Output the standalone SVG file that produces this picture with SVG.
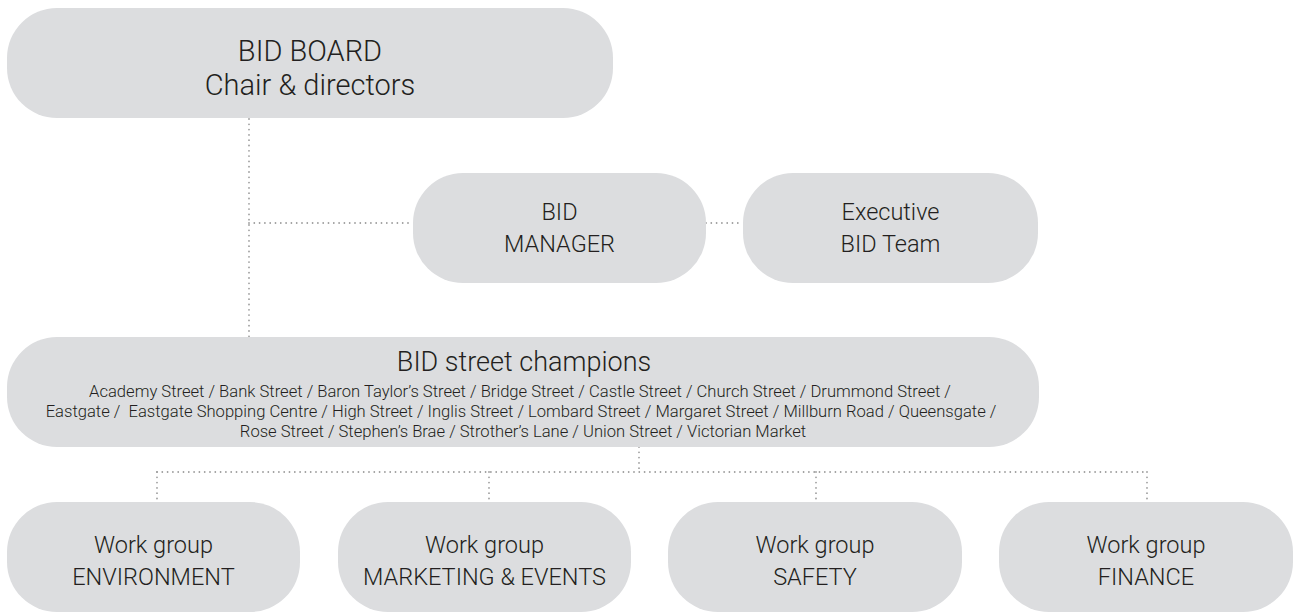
<svg xmlns="http://www.w3.org/2000/svg" width="1293" height="614" viewBox="0 0 1293 614">
  <style>
    .box { fill: #dcdddf; }
    .lbl { font-family: Roboto, "Liberation Sans", sans-serif; font-weight: 300; fill: #231f20; text-anchor: middle; }
    .big { font-size: 29px; }
    .mid { font-size: 23.5px; }
    .wg { font-size: 23.5px; }
    .title { font-size: 27px; }
    .small { font-size: 16.6px; white-space: pre; }
    .dot { fill: none; stroke: #9d9d9d; stroke-width: 1.8; stroke-linecap: round; stroke-dasharray: 0 5.3; }
  </style>
  <rect width="1293" height="614" fill="#ffffff"/>

  <!-- dotted connectors -->
  <g id="connectors">
    <path class="dot" d="M249 119 V337"/>
    <path class="dot" d="M249 223 H413"/>
    <path class="dot" d="M706 223 H743"/>
    <path class="dot" d="M639 447 V472"/>
    <path class="dot" d="M157 472 H1147"/>
    <path class="dot" d="M157 472 V502"/>
    <path class="dot" d="M489 472 V502"/>
    <path class="dot" d="M816 472 V502"/>
    <path class="dot" d="M1147 472 V502"/>
  </g>

  <g id="board">
    <rect class="box" x="7" y="8" width="606" height="110" rx="50" ry="50"/>
    <text class="lbl big" x="310" y="61">BID BOARD</text>
    <text class="lbl big" x="310" y="95">Chair &amp; directors</text>
  </g>

  <g id="manager">
    <rect class="box" x="413" y="173" width="293" height="110" rx="50" ry="50"/>
    <text class="lbl mid" x="559.5" y="220">BID</text>
    <text class="lbl mid" x="559.5" y="252">MANAGER</text>
  </g>

  <g id="executive">
    <rect class="box" x="743" y="173" width="295" height="110" rx="50" ry="50"/>
    <text class="lbl mid" x="890.5" y="220">Executive</text>
    <text class="lbl mid" x="890.5" y="252">BID Team</text>
  </g>

  <g id="champions">
    <rect class="box" x="7" y="337" width="1032" height="110" rx="50" ry="50"/>
    <text class="lbl title" x="524" y="371">BID street champions</text>
    <text class="lbl small" x="520" y="397">Academy Street / Bank Street / Baron Taylor’s Street / Bridge Street / Castle Street / Church Street / Drummond Street /</text>
    <text class="lbl small" x="521" y="417">Eastgate /  Eastgate Shopping Centre / High Street / Inglis Street / Lombard Street / Margaret Street / Millburn Road / Queensgate /</text>
    <text class="lbl small" x="523" y="437">Rose Street / Stephen’s Brae / Strother’s Lane / Union Street / Victorian Market</text>
  </g>

  <g id="wg-environment">
    <rect class="box" x="7" y="502" width="293" height="110" rx="50" ry="50"/>
    <text class="lbl wg" x="153.5" y="553">Work group</text>
    <text class="lbl wg" x="153.5" y="585">ENVIRONMENT</text>
  </g>

  <g id="wg-marketing">
    <rect class="box" x="338" y="502" width="293" height="110" rx="50" ry="50"/>
    <text class="lbl wg" x="484.5" y="553">Work group</text>
    <text class="lbl wg" x="484.5" y="585">MARKETING &amp; EVENTS</text>
  </g>

  <g id="wg-safety">
    <rect class="box" x="668" y="502" width="294" height="110" rx="50" ry="50"/>
    <text class="lbl wg" x="815" y="553">Work group</text>
    <text class="lbl wg" x="815" y="585">SAFETY</text>
  </g>

  <g id="wg-finance">
    <rect class="box" x="999" y="502" width="294" height="110" rx="50" ry="50"/>
    <text class="lbl wg" x="1146" y="553">Work group</text>
    <text class="lbl wg" x="1146" y="585">FINANCE</text>
  </g>
</svg>
